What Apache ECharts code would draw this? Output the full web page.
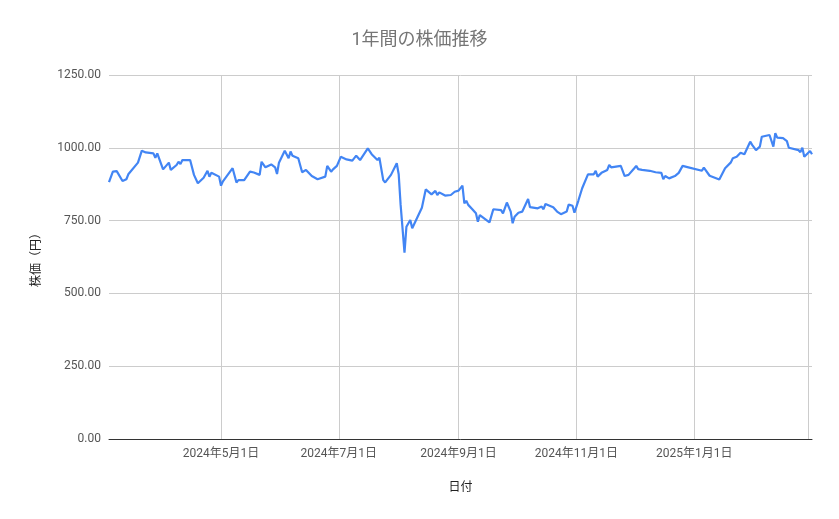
<!DOCTYPE html>
<html>
<head>
<meta charset="utf-8">
<script src="https://cdn.jsdelivr.net/npm/echarts@6/dist/echarts.min.js"></script>
<style>
html,body{margin:0;padding:0;background:#fff;}
#chart{width:839px;height:519px;}
</style>
</head>
<body>
<div id="chart"></div>
<script>
const titleText = '1年間の株価推移';
const xAxisName = '日付';
const yAxisName = '株価（円）';

const dates = [
 '2024-03-04','2024-03-06','2024-03-08','2024-03-11','2024-03-13','2024-03-14','2024-03-19','2024-03-21','2024-03-23','2024-03-27','2024-03-28','2024-03-29',
 '2024-04-01','2024-04-02','2024-04-04','2024-04-05','2024-04-08','2024-04-09','2024-04-10','2024-04-11','2024-04-15','2024-04-17','2024-04-18','2024-04-19','2024-04-22','2024-04-24','2024-04-25','2024-04-26','2024-04-30',
 '2024-05-01','2024-05-02','2024-05-07','2024-05-09','2024-05-10','2024-05-13','2024-05-14','2024-05-16','2024-05-18','2024-05-21','2024-05-22','2024-05-24','2024-05-27','2024-05-29','2024-05-30','2024-05-31',
 '2024-06-03','2024-06-04','2024-06-05','2024-06-06','2024-06-07','2024-06-10','2024-06-12','2024-06-13','2024-06-14','2024-06-17','2024-06-18','2024-06-20','2024-06-21','2024-06-24','2024-06-25','2024-06-26','2024-06-27','2024-06-28','2024-06-30',
 '2024-07-02','2024-07-05','2024-07-08','2024-07-10','2024-07-12','2024-07-16','2024-07-18','2024-07-21','2024-07-22','2024-07-24','2024-07-25','2024-07-28','2024-07-29','2024-07-31',
 '2024-08-01','2024-08-02','2024-08-04','2024-08-05','2024-08-07','2024-08-08','2024-08-13','2024-08-15','2024-08-18','2024-08-20','2024-08-21','2024-08-22','2024-08-25','2024-08-28','2024-08-30',
 '2024-09-01','2024-09-03','2024-09-04','2024-09-05','2024-09-06','2024-09-08','2024-09-10','2024-09-11','2024-09-12','2024-09-17','2024-09-19','2024-09-23','2024-09-24','2024-09-26','2024-09-28','2024-09-29','2024-09-30',
 '2024-10-01','2024-10-02','2024-10-04','2024-10-07','2024-10-08','2024-10-12','2024-10-14','2024-10-15','2024-10-16','2024-10-20','2024-10-22','2024-10-24','2024-10-27','2024-10-28','2024-10-30','2024-10-31',
 '2024-11-02','2024-11-04','2024-11-07','2024-11-10','2024-11-11','2024-11-12','2024-11-14','2024-11-17','2024-11-18','2024-11-19','2024-11-24','2024-11-26','2024-11-28',
 '2024-12-01','2024-12-02','2024-12-03','2024-12-04','2024-12-05','2024-12-09','2024-12-10','2024-12-12','2024-12-15','2024-12-16','2024-12-17','2024-12-19','2024-12-22','2024-12-24','2024-12-26','2024-12-29',
 '2025-01-05','2025-01-06','2025-01-09','2025-01-14','2025-01-17','2025-01-20','2025-01-21','2025-01-23','2025-01-25','2025-01-26','2025-01-27','2025-01-30','2025-01-31',
 '2025-02-02','2025-02-04','2025-02-05','2025-02-09','2025-02-11','2025-02-12','2025-02-13','2025-02-16','2025-02-18','2025-02-19','2025-02-24','2025-02-25','2025-02-26','2025-02-27',
 '2025-03-02','2025-03-03'
];

const prices = [
 882,918,920,886,892,909,949,990,984,981,966,981,
 926,932,949,924,941,952,944,958,958,907,912,878,897,921,901,914,901,
 870,885,930,881,889,889,884,918,915,907,952,933,943,933,910,949,
 990,989,964,987,973,964,916,918,924,903,901,892,897,901,938,941,918,926,938,
 969,960,956,973,958,998,978,958,966,889,881,907,912,947,
 909,804,640,729,752,724,794,857,840,852,838,847,836,838,849,
 853,870,809,818,804,790,775,746,769,744,789,786,775,812,781,741,763,
 758,777,781,824,796,792,798,789,807,796,781,772,781,805,801,777,
 818,861,909,909,921,901,914,924,941,933,938,903,907,
 930,938,927,932,924,921,924,916,914,892,903,895,903,914,938,933,
 921,932,904,891,930,950,964,969,983,987,978,1021,1010,
 992,1004,1038,1044,1004,1050,1035,1033,1023,1000,992,985,1000,969,
 989,978
];

const gridDates = ['2024-05-01','2024-07-01','2024-09-01','2024-11-01','2025-01-01','2025-03-01'];
const labelDates = ['2024-05-01','2024-07-01','2024-09-01','2024-11-01','2025-01-01'];
const yTicks = [0, 250, 500, 750, 1000, 1250];

const ts = s => { const p = s.split('-').map(Number); return Date.UTC(p[0], p[1]-1, p[2]); };
const seriesData = dates.map((d, i) => [ts(d), prices[i]]);

const chart = echarts.init(document.getElementById('chart'), null, {renderer: 'canvas'});
const FONT = "Roboto, 'Noto Sans CJK JP', sans-serif";

chart.setOption({
  animation: false,
  backgroundColor: '#ffffff',
  textStyle: {fontFamily: FONT},
  title: {
    text: titleText,
    left: 'center',
    top: 27,
    textStyle: {fontFamily: FONT, fontSize: 18, fontWeight: 'normal', color: '#757575'}
  },
  grid: {left: 109, right: 27, top: 75, bottom: 80, containLabel: false},
  xAxis: {
    type: 'value',
    scale: true,
    min: ts(dates[0]),
    max: ts(dates[dates.length - 1]),
    name: xAxisName,
    nameLocation: 'middle',
    nameGap: 43,
    nameTextStyle: {fontFamily: FONT, fontSize: 12, color: '#222'},
    axisLine: {show: true, onZero: false, lineStyle: {color: '#333', width: 1}},
    axisTick: {show: false, customValues: gridDates.map(ts)},
    axisLabel: {
      customValues: labelDates.map(ts),
      color: '#555',
      fontSize: 12,
      margin: 9,
      fontFamily: FONT,
      formatter: v => { const d = new Date(v); return d.getUTCFullYear() + '年' + (d.getUTCMonth()+1) + '月' + d.getUTCDate() + '日'; }
    },
    splitLine: {show: true, lineStyle: {color: '#cccccc', width: 1}}
  },
  yAxis: {
    type: 'value',
    min: yTicks[0],
    max: yTicks[yTicks.length - 1],
    interval: 250,
    name: yAxisName,
    nameLocation: 'middle',
    nameGap: 66,
    nameRotate: 90,
    nameTextStyle: {fontFamily: FONT, fontSize: 12, color: '#222'},
    axisLine: {show: false},
    axisTick: {show: false},
    axisLabel: {color: '#555', fontSize: 12, margin: 8, fontFamily: FONT, formatter: v => v.toFixed(2)},
    splitLine: {show: true, lineStyle: {color: '#cccccc', width: 1}}
  },
  series: [{
    type: 'line',
    data: seriesData,
    showSymbol: false,
    symbol: 'none',
    lineStyle: {color: '#4285f4', width: 2.2},
    itemStyle: {color: '#4285f4'}
  }]
});
</script>
</body>
</html>
